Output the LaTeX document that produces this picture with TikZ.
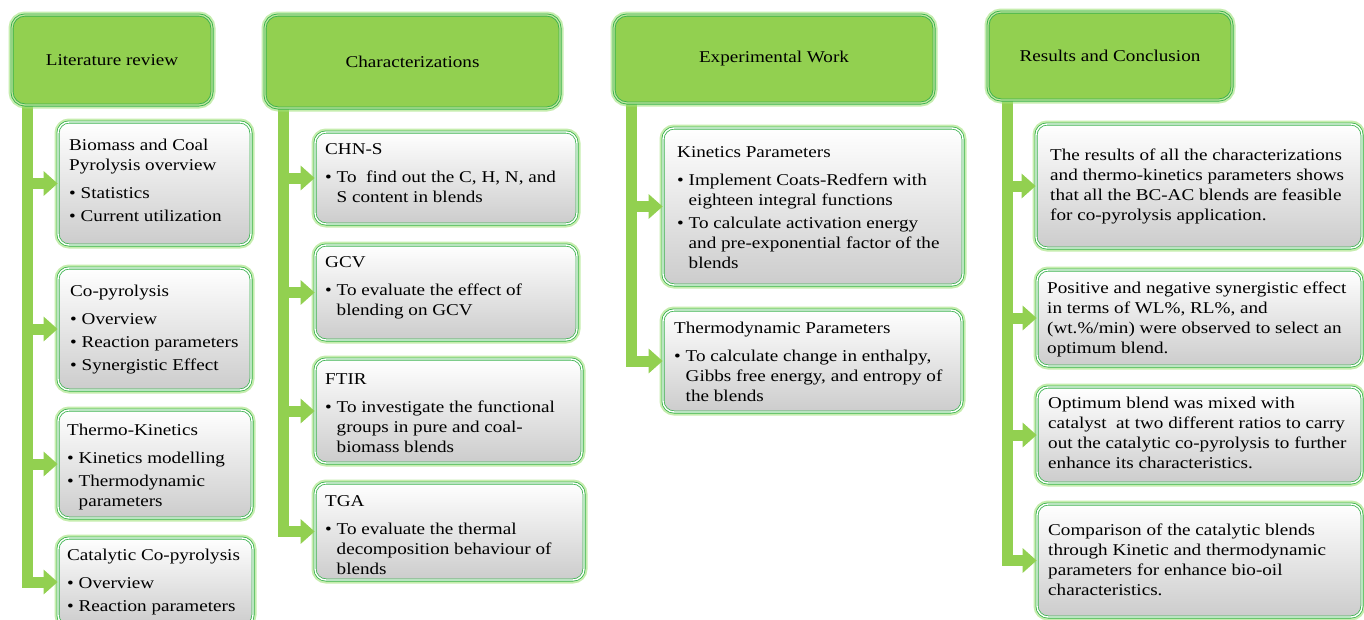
\documentclass[tikz,border=0pt]{standalone}
\usepackage{fontspec}
\setmainfont{Liberation Serif}[FakeStretch=1.16]
\usetikzlibrary{arrows.meta,backgrounds}
\definecolor{hgreen}{RGB}{146,208,80}
\definecolor{bgreen}{RGB}{58,178,78}
\definecolor{glowc}{RGB}{160,225,120}
\newcommand\bul{\makebox[11.5pt][l]{\textbullet}}
\newcommand\myind{\hspace*{11.5pt}}
\begin{document}
\begin{tikzpicture}[x=1pt,y=-1pt,
  every node/.style={font=\fontsize{16.5}{20}\selectfont},
  head/.style={rounded corners=13pt, fill=hgreen, draw=bgreen, line width=0.9pt,
    double=hgreen!55!white, double distance=1.2pt,
    preaction={draw=glowc, line width=7pt, opacity=.6}, inner sep=0pt},
  sub/.style={rounded corners=11pt, draw=bgreen, line width=0.8pt,
    double=white, double distance=1.4pt,
    top color=white, middle color=white!96!black, bottom color=gray!40,
    preaction={draw=glowc, line width=7pt, opacity=.6}, inner sep=0pt},
  txt/.style={anchor=north west, align=left, inner sep=0pt},
  trunk/.style={draw=hgreen, line width=11pt},
  arr/.style={draw=hgreen, line width=11pt, -{Triangle[length=14pt,width=24pt]}}]
\useasboundingbox (0,0) rectangle (1364,619);

% ---------- headers ----------
\node[head, minimum width=200pt, minimum height=90pt] (litH) at (112,60) {Literature review};
\node[head, minimum width=295pt, minimum height=93pt] (chaH) at (412.5,61.5) {Characterizations};
\node[head, minimum width=320pt, minimum height=88pt] (expH) at (774,59) {Experimental Work};
\node[head, minimum width=244pt, minimum height=88pt] (resH) at (1110,56) {Results and Conclusion};

% ---------- literature review boxes ----------
\node[sub, minimum width=193pt, minimum height=123pt] (lb1) at (154.5,183.5) {};
\node[txt] (lb1t) at (69,138.4) {Biomass and Coal\\Pyrolysis overview\\[8pt]\bul Statistics\\[3pt]\bul Current utilization};
\node[sub, minimum width=193pt, minimum height=122pt] (lb2) at (154.5,329) {};
\node[txt] (lb2t) at (70,284.7) {Co-pyrolysis\\[8pt]\bul Overview\\[3pt]\bul Reaction parameters\\[3pt]\bul Synergistic Effect};
\node[sub, minimum width=194pt, minimum height=108pt] (lb3) at (155,464) {};
\node[txt] (lb3t) at (67,423.7) {Thermo-Kinetics\\[8pt]\bul Kinetics modelling\\[3pt]\bul Thermodynamic\\\myind parameters};
\node[sub, minimum width=195pt, minimum height=88pt] (lb4) at (155.5,582) {};
\node[txt] (lb4t) at (67,548.7) {Catalytic Co-pyrolysis\\[8pt]\bul Overview\\[3pt]\bul Reaction parameters};

% ---------- characterization boxes ----------
\node[sub, minimum width=262pt, minimum height=92pt] (cb1) at (446,178) {};
\node[txt] (cb1t) at (325,143.7) {CHN-S\\[8pt]\bul To\ \ find out the C, H, N, and\\\myind S content in blends};
\node[sub, minimum width=262pt, minimum height=95pt] (cb2) at (446,292.5) {};
\node[txt] (cb2t) at (325,256.7) {GCV\\[8pt]\bul To evaluate the effect of\\\myind blending on GCV};
\node[sub, minimum width=267pt, minimum height=104pt] (cb3) at (448.5,411) {};
\node[txt] (cb3t) at (325,373.7) {FTIR\\[8pt]\bul To investigate the functional\\\myind groups in pure and coal-\\\myind biomass blends};
\node[sub, minimum width=269pt, minimum height=97pt] (cb4) at (449.5,531.5) {};
\node[txt] (cb4t) at (325,495.7) {TGA\\[8pt]\bul To evaluate the thermal\\\myind decomposition behaviour of\\\myind blends};

% ---------- experimental boxes ----------
\node[sub, minimum width=300pt, minimum height=157pt] (eb1) at (813,206.5) {};
\node[txt] (eb1t) at (677,146.7) {Kinetics Parameters\\[8pt]\bul Implement Coats-Redfern with\\\myind eighteen integral functions\\[3pt]\bul To calculate activation energy\\\myind and pre-exponential factor of the\\\myind blends};
\node[sub, minimum width=299pt, minimum height=102pt] (eb2) at (812.5,361) {};
\node[txt] (eb2t) at (674,321.7) {Thermodynamic Parameters\\[8pt]\bul To calculate change in enthalpy,\\\myind Gibbs free energy, and entropy of\\\myind the blends};

% ---------- results boxes ----------
\node[sub, minimum width=326pt, minimum height=124pt] (rb1) at (1199,186) {};
\node[txt] (rb1t) at (1050,148.7) {The results of all the characterizations\\and thermo-kinetics parameters shows\\that all the BC-AC blends are feasible\\for co-pyrolysis application.};
\node[sub, minimum width=325pt, minimum height=96pt] (rb2) at (1199.5,318) {};
\node[txt] (rb2t) at (1047,281.7) {Positive and negative synergistic effect\\in terms of WL\%, RL\%, and\\(wt.\%/min) were observed to select an\\optimum blend.};
\node[sub, minimum width=325pt, minimum height=96pt] (rb3) at (1199.5,435) {};
\node[txt] (rb3t) at (1048,396.7) {Optimum blend was mixed with\\catalyst\ \ at two different ratios to carry\\out the catalytic co-pyrolysis to further\\enhance its characteristics.};
\node[sub, minimum width=325pt, minimum height=113pt] (rb4) at (1199.5,560.5) {};
\node[txt] (rb4t) at (1048,523.7) {Comparison of the catalytic blends\\through Kinetic and thermodynamic\\parameters for enhance bio-oil\\characteristics.};

% ---------- trunks ----------
\coordinate (litB) at (27,588);
\coordinate (chaB) at (283,537);
\coordinate (expB) at (631,366.5);
\coordinate (resB) at (1007,566);
\begin{scope}[on background layer]
  \fill[white] (0,0) rectangle (1364,619);
  \draw[trunk] (litH.south -| litB) -- (litB);
  \draw[trunk] (chaH.south -| chaB) -- (chaB);
  \draw[trunk] (expH.south -| expB) -- (expB);
  \draw[trunk] (resH.south -| resB) -- (resB);
\end{scope}

% ---------- arrows ----------
\foreach \b in {lb1,lb2,lb3,lb4} \draw[arr] (litB |- \b.west) -- (\b.west);
\foreach \b in {cb1,cb2,cb3,cb4} \draw[arr] (chaB |- \b.west) -- (\b.west);
\foreach \b in {eb1,eb2} \draw[arr] (expB |- \b.west) -- (\b.west);
\foreach \b in {rb1,rb2,rb3,rb4} \draw[arr] (resB |- \b.west) -- (\b.west);
\end{tikzpicture}
\end{document}
